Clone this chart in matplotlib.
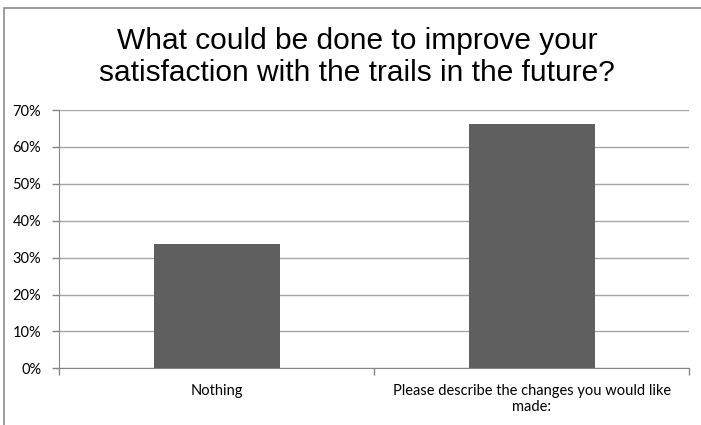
import matplotlib.pyplot as plt
from matplotlib.patches import Rectangle
from matplotlib.ticker import PercentFormatter, FixedLocator

# Respuestas de la encuesta
categorias = ["Nothing", "Please describe the changes you would like\nmade:"]
porcentajes = [33.7, 66.3]

fig = plt.figure(figsize=(7.01, 4.25), dpi=100)
ax = fig.add_axes([0.0846, 0.1334, 0.8984, 0.6076])

# Marco gris del gráfico (cortado por la derecha y por abajo)
fig.patches.append(Rectangle((4 / 701, -0.05), 1.5, 1 - 8 / 425 + 0.05,
                             transform=fig.transFigure, fill=False,
                             edgecolor="#8c8c8c", linewidth=1.2, zorder=0))

x = range(len(categorias))
ax.bar(x, porcentajes, width=0.4, color="#5f5f5f", zorder=3)

ax.set_xlim(-0.5, 1.5)
ax.set_ylim(0, 70)
ax.set_yticks(range(0, 71, 10))
ax.yaxis.set_major_formatter(PercentFormatter(decimals=0))
ax.yaxis.grid(True, color="#a6a6a6", linewidth=1.0, zorder=0)

# Marcas del eje X entre categorías, etiquetas centradas
ax.xaxis.set_major_locator(FixedLocator([-0.5, 0.5, 1.5]))
ax.xaxis.set_major_formatter(plt.NullFormatter())
ax.xaxis.set_minor_locator(FixedLocator(list(x)))
ax.xaxis.set_minor_formatter(plt.FixedFormatter(categorias))
ax.tick_params(axis="x", which="minor", length=0, pad=11)
ax.tick_params(axis="x", which="major", length=5, color="#868686", width=1)
ax.tick_params(axis="y", length=5, color="#868686", width=1, pad=8)

for lab in ax.get_xticklabels(minor=True) + ax.get_yticklabels():
    lab.set_fontfamily("Lato")
    lab.set_fontsize(10.5)
    lab.set_color("black")

for lado in ["top", "right"]:
    ax.spines[lado].set_visible(False)
ax.spines["left"].set_color("#868686")
ax.spines["bottom"].set_color("#868686")

fig.text(0.509, 0.866, "What could be done to improve your\nsatisfaction with the trails in the future?",
         ha="center", va="center", fontsize=21.5, family="Liberation Sans",
         linespacing=1.15)

plt.savefig("out.png", dpi=100)
